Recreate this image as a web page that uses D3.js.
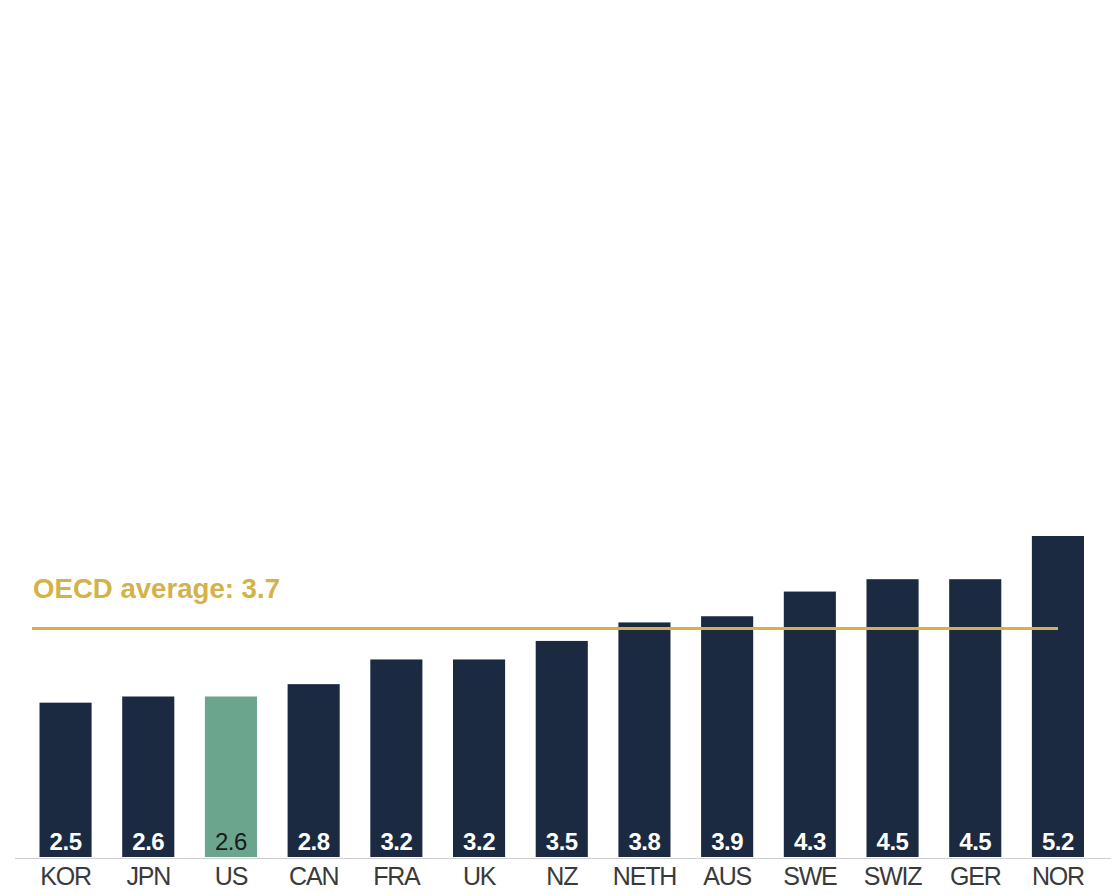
<!DOCTYPE html>
<html>
<head>
<meta charset="utf-8">
<script src="https://cdn.jsdelivr.net/npm/d3@7"></script>
<style>
  html, body { margin: 0; padding: 0; background: #fff; }
  svg { display: block; }
</style>
</head>
<body>
<svg id="chart" width="1117" height="895"></svg>
<script>
// Country codes and values, sorted ascending
const countries = ["KOR", "JPN", "US", "CAN", "FRA", "UK", "NZ", "NETH", "AUS", "SWE", "SWIZ", "GER", "NOR"];
const values = [2.5, 2.6, 2.6, 2.8, 3.2, 3.2, 3.5, 3.8, 3.9, 4.3, 4.5, 4.5, 5.2];
const highlight = "US";
const averageValue = 3.7;
const averageLabel = "OECD average: 3.7";

const data = countries.map((c, i) => ({ country: c, value: values[i] }));

const svg = d3.select("#chart");
const baseline = 857;
const font = "'Liberation Sans', Arial, Helvetica, sans-serif";

const x = d3.scaleBand()
  .domain(countries)
  .range([14.7, 1108.8])
  .paddingInner(0.37)
  .paddingOuter(0.3);

const y = d3.scaleLinear()
  .domain([0, 5.2])
  .range([baseline, 536]);

const navy = "#1b2a40";
const green = "#6ba58e";
const gold = "#d4b24a";

// Bars
svg.append("g")
  .selectAll("rect")
  .data(data)
  .join("rect")
  .attr("x", d => x(d.country))
  .attr("y", d => y(d.value))
  .attr("width", x.bandwidth())
  .attr("height", d => y(0) - y(d.value))
  .attr("fill", d => d.country === highlight ? green : navy);

// Value labels inside bar bottoms
svg.append("g")
  .selectAll("text")
  .data(data)
  .join("text")
  .attr("x", d => x(d.country) + x.bandwidth() / 2)
  .attr("y", 849.5)
  .attr("text-anchor", "middle")
  .attr("font-family", font)
  .attr("font-size", 24)
  .attr("letter-spacing", -0.5)
  .attr("font-weight", d => d.country === highlight ? 400 : 700)
  .attr("fill", d => d.country === highlight ? "#1a1a1a" : "#ffffff")
  .text(d => d.value.toFixed(1));

// Baseline axis
const xAxis = d3.axisBottom(x).tickSize(0).tickPadding(0);
const axisG = svg.append("g")
  .attr("transform", `translate(0,${baseline + 1.5})`)
  .call(xAxis);
axisG.select(".domain")
  .attr("d", "M15,0H1111")
  .attr("stroke", "#cfcfcf")
  .attr("stroke-width", 1.2);
axisG.selectAll(".tick text")
  .attr("y", 26.5)
  .attr("dy", 0)
  .attr("font-family", font)
  .attr("font-size", 25)
  .attr("letter-spacing", -1.2)
  .attr("fill", "#3a3a3a");

// Average reference line
svg.append("line")
  .attr("x1", 32)
  .attr("x2", 1058)
  .attr("y1", y(averageValue))
  .attr("y2", y(averageValue))
  .attr("stroke", gold)
  .attr("stroke-width", 3);

svg.append("text")
  .attr("x", 33)
  .attr("y", 598)
  .attr("font-family", font)
  .attr("font-size", 27)
  .attr("font-weight", 700)
  .attr("fill", gold)
  .attr("textLength", 247)
  .attr("lengthAdjust", "spacingAndGlyphs")
  .text(averageLabel);
</script>
</body>
</html>
